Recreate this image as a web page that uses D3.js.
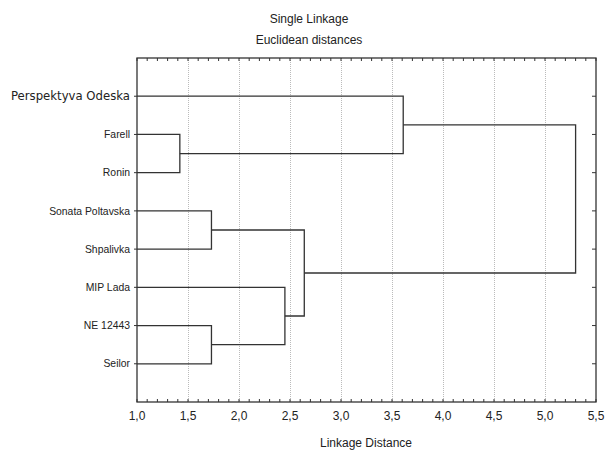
<!DOCTYPE html>
<html>
<head>
<meta charset="utf-8">
<script src="https://cdn.jsdelivr.net/npm/d3@7"></script>
<style>
  body { margin: 0; background: #fff; }
  text { font-family: "Liberation Sans", Arial, sans-serif; fill: #222; }
</style>
</head>
<body>
<div id="chart"></div>
<script>
// leaves, top to bottom
var leaves = ["Perspektyva Odeska", "Farell", "Ronin", "Sonata Poltavska",
    "Shpalivka", "MIP Lada", "NE 12443", "Seilor"];

// merge steps, cluster i is called "C" + (i + 1)
var mergeLeft = ["Farell", "NE 12443", "Sonata Poltavska", "MIP Lada", "C3", "Perspektyva Odeska", "C6"];
var mergeRight = ["Ronin", "Seilor", "Shpalivka", "C2", "C4", "C1", "C5"];
var mergeDist = [1.42, 1.73, 1.73, 2.45, 2.64, 3.61, 5.30];

var xTicks = [1.0, 1.5, 2.0, 2.5, 3.0, 3.5, 4.0, 4.5, 5.0, 5.5];

var width = 607, height = 450;
var margin = {left: 137, top: 58, right: 11, bottom: 48};

var svg = d3.select("#chart").append("svg")
    .attr("width", width)
    .attr("height", height);

var x = d3.scaleLinear()
    .domain([1.0, 5.5])
    .range([margin.left, width - margin.right]);

var y = d3.scalePoint()
    .domain(leaves)
    .range([margin.top, height - margin.bottom])
    .padding(1);

var plotTop = margin.top, plotBottom = height - margin.bottom;
var plotLeft = margin.left, plotRight = width - margin.right;

// grid lines
svg.append("g")
    .selectAll("line")
    .data(xTicks.slice(1, -1))
    .join("line")
    .attr("x1", d => x(d) + 0.5)
    .attr("x2", d => x(d) + 0.5)
    .attr("y1", plotTop)
    .attr("y2", plotBottom)
    .attr("stroke", "#bbb")
    .attr("stroke-width", 1)
    .attr("stroke-dasharray", "1,1");

// node positions
var pos = {};
leaves.forEach(function (name) {
    pos[name] = {x: x(1.0), y: y(name)};
});

var links = svg.append("g")
    .attr("fill", "none")
    .attr("stroke", "#333")
    .attr("stroke-width", 1.3);

mergeDist.forEach(function (d, i) {
    var a = pos[mergeLeft[i]], b = pos[mergeRight[i]];
    var mx = x(d);
    var path = d3.path();
    path.moveTo(a.x, a.y);
    path.lineTo(mx, a.y);
    path.lineTo(mx, b.y);
    path.lineTo(b.x, b.y);
    links.append("path").attr("d", path.toString());
    pos["C" + (i + 1)] = {x: mx, y: (a.y + b.y) / 2};
});

// frame
svg.append("rect")
    .attr("x", plotLeft)
    .attr("y", plotTop)
    .attr("width", plotRight - plotLeft)
    .attr("height", plotBottom - plotTop)
    .attr("fill", "none")
    .attr("stroke", "#333")
    .attr("stroke-width", 1.3);

// minor ticks top & bottom
var minor = d3.range(10, 56).map(d => d / 10);
var tk = svg.append("g").attr("stroke", "#333").attr("stroke-width", 1);
minor.forEach(function (d) {
    tk.append("line").attr("x1", x(d)).attr("x2", x(d)).attr("y1", plotTop).attr("y2", plotTop + 3);
    tk.append("line").attr("x1", x(d)).attr("x2", x(d)).attr("y1", plotBottom).attr("y2", plotBottom - 3);
});

// leaf ticks left (outside) & right (inside)
leaves.forEach(function (name) {
    tk.append("line").attr("x1", plotLeft).attr("x2", plotLeft - 3).attr("y1", y(name)).attr("y2", y(name));
    tk.append("line").attr("x1", plotRight).attr("x2", plotRight - 4).attr("y1", y(name)).attr("y2", y(name));
});

// x tick labels
svg.append("g")
    .selectAll("text")
    .data(xTicks)
    .join("text")
    .attr("x", d => x(d))
    .attr("y", plotBottom + 18)
    .attr("text-anchor", "middle")
    .style("font-size", "12px")
    .text(d => d3.format(".1f")(d).replace(".", ","));

// leaf labels
svg.append("g")
    .selectAll("text")
    .data(leaves)
    .join("text")
    .attr("x", plotLeft - 7)
    .attr("y", d => y(d))
    .attr("dy", "0.35em")
    .attr("text-anchor", "end")
    .style("font-family", (d, i) => i == 0 ? "'DejaVu Sans', sans-serif" : null)
    .style("font-size", (d, i) => i == 0 ? "11.7px" : "10.4px")
    .text(d => d);

// titles
svg.append("text")
    .attr("x", 309).attr("y", 23)
    .attr("text-anchor", "middle")
    .style("font-size", "12px")
    .text("Single Linkage");
svg.append("text")
    .attr("x", 309).attr("y", 44)
    .attr("text-anchor", "middle")
    .style("font-size", "12px")
    .text("Euclidean distances");
svg.append("text")
    .attr("x", 366).attr("y", 447)
    .attr("text-anchor", "middle")
    .style("font-size", "12px")
    .text("Linkage Distance");
</script>
</body>
</html>
